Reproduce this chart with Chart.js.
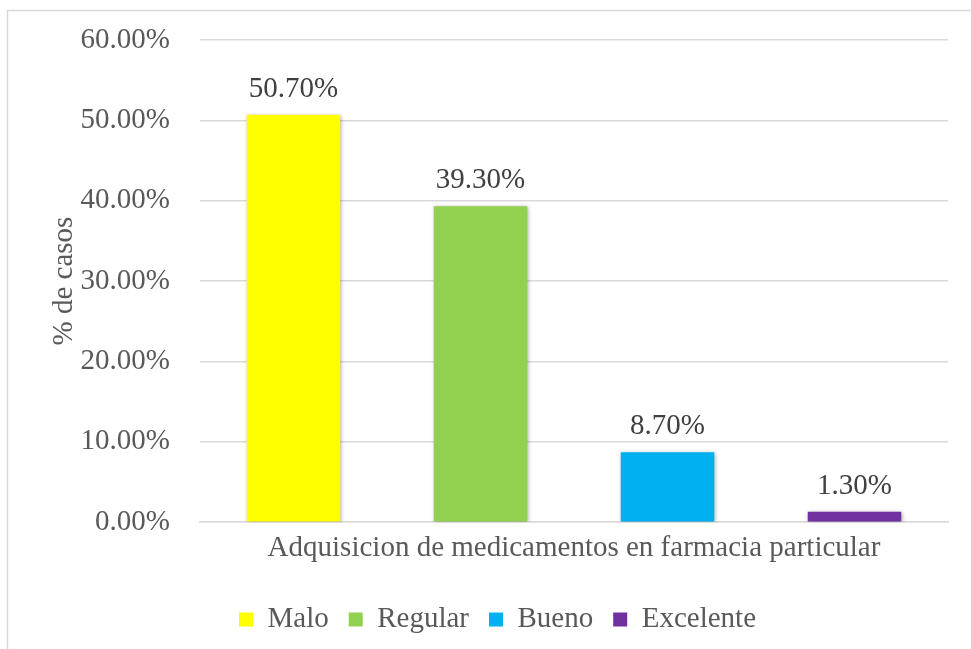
<!DOCTYPE html>
<html>
<head>
<meta charset="utf-8">
<script src="https://cdn.jsdelivr.net/npm/chart.js@4/dist/chart.umd.min.js"></script>
<style>
  html, body { margin: 0; padding: 0; background: #fff; }
  #wrap { width: 971px; height: 649px; }
</style>
</head>
<body>
<div id="wrap"><canvas id="myChart"></canvas></div>
<script>
const categories = ["Adquisicion de medicamentos en farmacia particular"];
const seriesNames = ["Malo", "Regular", "Bueno", "Excelente"];
const seriesValues = [50.7, 39.3, 8.7, 1.3];
const seriesColors = ["#ffff00", "#92d050", "#00b0f0", "#7030a0"];
const yTicks = [0, 10, 20, 30, 40, 50, 60];

const serif = "'Liberation Serif', 'Times New Roman', serif";
const fontSize = 29;

// light gray frame around the chart, cut by the page edge
const framePlugin = {
  id: "frame",
  beforeDraw(chart) {
    const c = chart.ctx;
    c.save();
    c.fillStyle = "#fff";
    c.fillRect(0, 0, chart.width, chart.height);
    c.strokeStyle = "#d9d9d9";
    c.lineWidth = 1.5;
    c.strokeRect(7.5, 10.5, 1200, 1200);
    c.restore();
  },
};

// soft shadow behind bars
const shadowPlugin = {
  id: "barShadow",
  beforeDatasetsDraw(chart) {
    chart.ctx.save();
    chart.ctx.shadowColor = "rgba(0,0,0,0.35)";
    chart.ctx.shadowBlur = 4;
    chart.ctx.shadowOffsetX = 1;
    chart.ctx.shadowOffsetY = 1;
  },
  afterDatasetsDraw(chart) {
    chart.ctx.restore();
  },
};

// value labels above each bar
const labelPlugin = {
  id: "valueLabels",
  afterDatasetsDraw(chart) {
    const c = chart.ctx;
    c.save();
    c.font = fontSize + "px " + serif;
    c.fillStyle = "#404040";
    c.textAlign = "center";
    c.textBaseline = "alphabetic";
    chart.data.datasets.forEach((ds, i) => {
      const bar = chart.getDatasetMeta(i).data[0];
      c.fillText(ds.data[0].toFixed(2) + "%", bar.x, bar.y - 18);
    });
    c.restore();
  },
};

const ctx = document.getElementById("myChart").getContext("2d");
const myChart = new Chart(ctx, {
  type: "bar",
  data: {
    labels: categories,
    datasets: seriesNames.map((name, i) => ({
      label: name,
      data: [seriesValues[i]],
      backgroundColor: seriesColors[i],
      borderWidth: 0,
    })),
  },
  options: {
    responsive: true,
    maintainAspectRatio: false,
    animation: false,
    devicePixelRatio: 1,
    categoryPercentage: 1,
    barPercentage: 0.5,
    layout: {
      padding: { top: 40, right: 23, bottom: 5, left: 47 },
    },
    plugins: {
      tooltip: { enabled: false },
      legend: {
        position: "bottom",
        labels: {
          boxWidth: 14,
          boxHeight: 14,
          padding: 20,
          color: "#595959",
          font: { family: serif, size: fontSize },
        },
      },
    },
    scales: {
      x: {
        grid: { display: false },
        border: { display: true, color: "#d9d9d9", width: 1.5 },
        ticks: {
          color: "#595959",
          font: { family: serif, size: fontSize },
          padding: 1,
        },
        afterFit(scale) {
          scale.height += 18;
        },
      },
      y: {
        min: 0,
        max: 60,
        afterBuildTicks(scale) {
          scale.ticks = yTicks.map((v) => ({ value: v }));
        },
        afterFit(scale) {
          scale.width = 153;
          scale.paddingTop = 0;
          scale.paddingBottom = 0;
        },
        grid: { color: "#d9d9d9", lineWidth: 1.5, drawTicks: false },
        border: { display: false },
        ticks: {
          color: "#595959",
          padding: 30,
          font: { family: serif, size: fontSize },
          callback: (v) => v.toFixed(2) + "%",
        },
        title: {
          display: true,
          text: "% de casos",
          color: "#595959",
          font: { family: serif, size: fontSize },
          padding: 0,
        },
      },
    },
  },
  plugins: [framePlugin, shadowPlugin, labelPlugin],
});
</script>
</body>
</html>
